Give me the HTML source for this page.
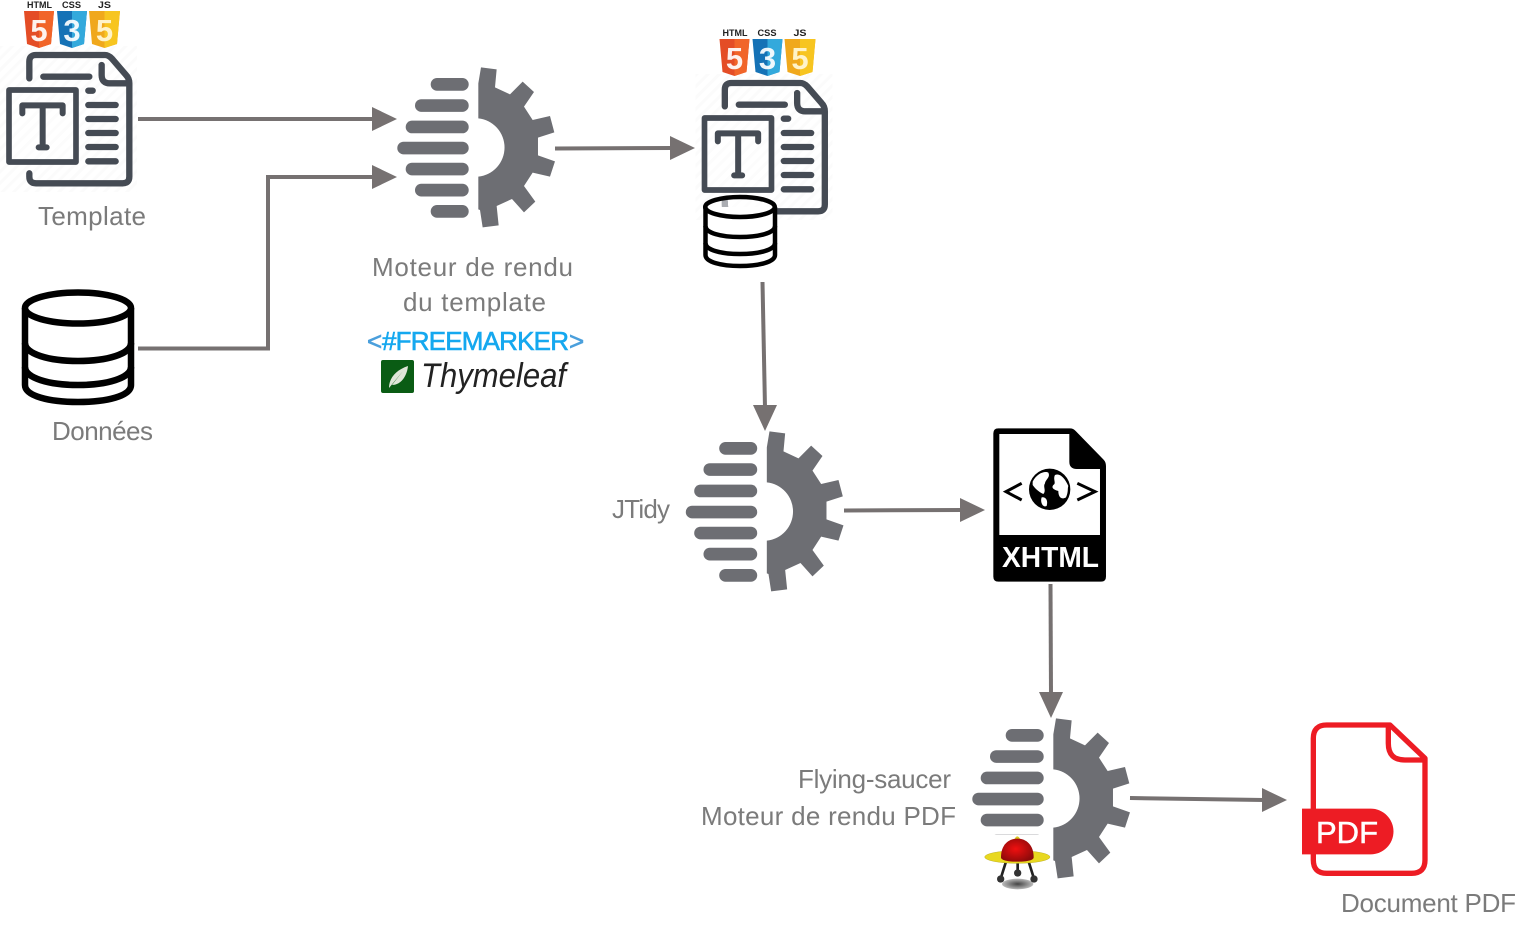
<!DOCTYPE html>
<html><head><meta charset="utf-8"><style>
html,body{margin:0;padding:0;background:#fff;width:1534px;height:938px;overflow:hidden}
svg{display:block}
.l{font-family:"Liberation Sans",sans-serif;font-size:26px;fill:#7b7b7b}
</style></head><body>
<svg width="1534" height="938" viewBox="0 0 1534 938" xmlns="http://www.w3.org/2000/svg">
<defs>
<pattern id="hatch" width="8" height="8" patternUnits="userSpaceOnUse" patternTransform="rotate(45)"><rect width="8" height="8" fill="#fff"/><rect width="3" height="8" fill="#fbfbfb"/></pattern>
<radialGradient id="dome" cx="45%" cy="45%" r="60%"><stop offset="0" stop-color="#f01010"/><stop offset="1" stop-color="#8c0a0a"/></radialGradient>
<radialGradient id="shadow"><stop offset="0" stop-color="#444"/><stop offset="1" stop-color="#bbb"/></radialGradient>
<g id="gear">
 <g fill="#6d6e73">
  <rect x="430.7" y="78" width="38" height="12.7" rx="6.3"/>
  <rect x="415" y="99.2" width="53.7" height="12.7" rx="6.3"/>
  <rect x="405.7" y="120.6" width="63" height="12.7" rx="6.3"/>
  <rect x="397.3" y="141.7" width="71.4" height="12.7" rx="6.3"/>
  <rect x="405.7" y="162.7" width="63" height="12.7" rx="6.3"/>
  <rect x="415" y="183.8" width="53.7" height="12.7" rx="6.3"/>
  <rect x="430.7" y="205" width="38" height="12.7" rx="6.3"/>
  <path transform="translate(380,50) scale(.3333)" d="M295,205V100L303,52L350,58L345,112L390,133L428,95L462,126L432,170L458,210L510,198L523,247L474,263V316L525,334L510,380L458,368L432,408L466,455L432,487L396,447L350,468L356,526L308,532L300,480L295,478V380A88,88 0 0 0 295,205Z"/>
 </g>
</g>
<g id="doc">
 <rect x="0" y="46" width="137" height="146" fill="url(#hatch)"/>
 <g transform="scale(.3333)" fill="none" stroke="#454b54" stroke-linecap="round" stroke-linejoin="round">
  <path stroke-width="19" d="M88,235V185Q88,165 108,165H315Q325,165 335,175L378,225Q388,235 388,250V530Q388,550 368,550H108Q88,550 88,530V520"/>
  <path stroke-width="19" d="M305,195V225Q305,250 330,250H385M130,230H268M265,272H278M265,315H347M265,357H347M265,399H347M265,441H347M265,484H347"/>
  <rect x="27" y="270" width="201" height="216" stroke-width="17" fill="#fff" fill-opacity=".4" stroke-linejoin="round"/>
  <path stroke-width="18" d="M67,340V316H188V340M128,316V442M116,442H140"/>
 </g>
 <path d="M24,11H54L51,44L39,48L27,44Z" fill="#e44d26"/><path d="M39,11H54L51,44L39,48Z" fill="#f16529"/>
 <path d="M57,11H87L84,44L72,48L60,44Z" fill="#1572b6"/><path d="M72,11H87L84,44L72,48Z" fill="#33a9dc"/>
 <path d="M89,11H120L117,44L104.500,48L92,44Z" fill="#f0a81c"/><path d="M104.500,11H120L117,44L104.500,48Z" fill="#f7c520"/>
 <g font-family="Liberation Sans,sans-serif" font-weight="700" font-size="31" text-anchor="middle">
  <text x="39" y="41" fill="#fff" fill-opacity=".92">5</text><text x="72" y="41" fill="#fff" fill-opacity=".92">3</text><text x="104.500" y="41" fill="#fff3c9">5</text>
 </g>
 <g font-family="Liberation Sans,sans-serif" font-weight="700" fill="#222" font-size="9">
  <text x="27" y="8" textLength="25" lengthAdjust="spacingAndGlyphs">HTML</text>
  <text x="62" y="8" textLength="19" lengthAdjust="spacingAndGlyphs">CSS</text>
  <text x="98" y="8" textLength="13" lengthAdjust="spacingAndGlyphs">JS</text>
 </g>
</g>
</defs>

<use href="#doc"/>
<use href="#doc" x="695.500" y="28"/>

<use href="#gear"/>
<use href="#gear" x="288.500" y="364"/>
<use href="#gear" x="575" y="651"/>

<g fill="#fff" stroke="#000" stroke-width="6.500">
 <path d="M25,308V385C25,396 49,402 78,402S131,396 131,385V308"/>
 <ellipse cx="78" cy="308" rx="53" ry="15.500"/>
 <path fill="none" d="M25,343C25,354 49,361 78,361S131,354 131,343M25,367C25,378 49,385 78,385S131,378 131,367"/>
</g>
<g fill="#fff" stroke="#000" stroke-width="4.500">
 <path d="M705.500,207V255C705.500,262 721,266 740,266S775,262 775,255V207"/>
 <ellipse cx="740" cy="207" rx="34.800" ry="10" fill="#fff" fill-opacity=".55"/>
 <path fill="none" d="M705.500,226C705.500,233 721,237 740,237S775,233 775,226M705.500,243C705.500,250 721,254 740,254S775,250 775,243"/>
</g>

<g fill="none" stroke="#767171" stroke-width="4">
 <path d="M138,119H374"/>
 <path d="M138,348.500H268V177H374"/>
 <path d="M555,148.500L672,148"/>
 <path d="M762.500,282L765,408"/>
 <path d="M844,510.500L962,510"/>
 <path d="M1050.500,584L1051,695"/>
 <path d="M1130,798L1264,800"/>
</g>
<g fill="#767171">
 <path d="M372,107L397,119L372,131Z"/>
 <path d="M372,165L397,177L372,189Z"/>
 <path d="M670,136L695,148L670,160Z"/>
 <path d="M753,405L765,431L777,405Z"/>
 <path d="M960,498L985,510L960,522Z"/>
 <path d="M1039,692L1051,718L1063,692Z"/>
 <path d="M1262,788L1287,800L1262,812Z"/>
</g>

<text class="l" x="38" y="225" textLength="108">Template</text>
<text class="l" x="52" y="440" textLength="101">Données</text>
<text class="l" x="372" y="276" textLength="201">Moteur de rendu</text>
<text class="l" x="403" y="311" textLength="143">du template</text>
<text class="l" x="612" y="518" textLength="58">JTidy</text>
<text class="l" x="798" y="788" textLength="153">Flying-saucer</text>
<text class="l" x="701" y="825" textLength="255">Moteur de rendu PDF</text>
<text class="l" x="1341" y="912" textLength="175">Document PDF</text>

<g font-family="Liberation Sans,sans-serif" font-size="26" stroke-width=".6">
<text x="367" y="350" fill="#4a9fdc" stroke="#4a9fdc" textLength="16">&lt;</text>
<text x="382" y="350" fill="#15a8ef" stroke="#15a8ef" textLength="187">#FREEMARKER</text>
<text x="569" y="350" fill="#4a9fdc" stroke="#4a9fdc" textLength="16">&gt;</text>
</g>
<rect x="381" y="360" width="33" height="33" rx="2" fill="#0a5c14"/>
<path d="M389,388C389,378 396,370 408,366C407,376 401,385 392,385L403,371Z" fill="#dfe6d8"/>
<text x="421" y="387" font-family="Liberation Sans,sans-serif" font-style="italic" font-size="34" fill="#222" textLength="145" lengthAdjust="spacingAndGlyphs">Thymeleaf</text>

<g transform="translate(980,420) scale(.3333)">
 <path fill="#000" d="M55,25H270Q280,25 287,33L370,118Q378,126 378,138V470Q378,485 363,485H55Q40,485 40,470V40Q40,25 55,25Z"/>
 <path fill="#fff" d="M58,42H268V125Q268,147 290,147H360V345H58Z"/>
 <circle cx="209" cy="208" r="62" fill="#000"/>
 <path fill="#fff" d="M158,185C170,160 195,152 205,158C212,172 197,178 195,190C188,200 200,212 190,222C175,215 165,205 158,195ZM185,232C197,230 205,240 200,258C188,264 180,245 185,232ZM225,165C240,158 255,175 265,198C262,205 266,215 258,232C240,242 235,225 235,213C225,210 212,205 220,195C230,190 218,178 225,165Z"/>
 <path fill="none" stroke="#000" stroke-width="9" d="M125,190L78,215L125,240M292,190L345,215L292,240"/>
</g>
<text x="1002" y="567" font-family="Liberation Sans,sans-serif" font-weight="700" font-size="29" fill="#fff" textLength="97" lengthAdjust="spacingAndGlyphs">XHTML</text>

<g transform="translate(970,820) scale(.3333)">
 <rect x="40" y="45" width="200" height="168" fill="#fff"/>
 <ellipse cx="143" cy="192" rx="47" ry="16" fill="url(#shadow)"/>
 <path d="M108,125L92,176M176,125L192,176M143,130V158" stroke="#222" stroke-width="8" fill="none"/>
 <circle cx="92" cy="177" r="11" fill="#333"/><circle cx="192" cy="177" r="11" fill="#333"/><circle cx="143" cy="159" r="11" fill="#333"/>
 <ellipse cx="142" cy="111" rx="98" ry="19" fill="#e8d820" stroke="#a89a10" stroke-width="1"/>
 <path d="M132,60Q142,38 152,60Z" fill="#d8c820"/>
 <path d="M93,112C93,75 115,56 142,56S191,75 191,112C191,122 165,125 142,125S93,122 93,112Z" fill="url(#dome)"/>
</g>

<g transform="translate(1290,710) scale(.3333)">
 <g fill="none" stroke="#ed1c24" stroke-width="16" stroke-linejoin="round">
  <path d="M300,45H110Q70,45 70,85V450Q70,490 110,490H365Q405,490 405,450V145Z"/>
  <path d="M295,45V100Q295,150 345,150H405"/>
 </g>
 <path fill="#ed1c24" d="M36,296H242A68,68 0 0 1 242,433H36Z"/>
</g>
<text x="1316" y="843" font-family="Liberation Sans,sans-serif" font-size="31" fill="#fff" stroke="#fff" stroke-width=".5" textLength="62">PDF</text>
</svg>
</body></html>
